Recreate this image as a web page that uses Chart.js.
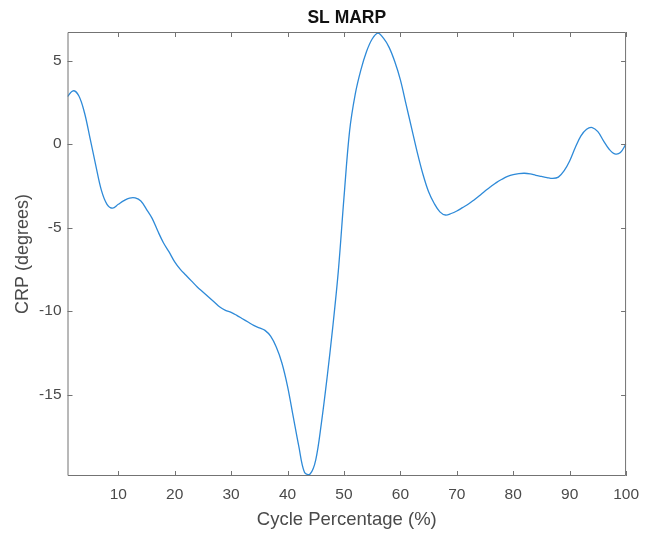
<!DOCTYPE html>
<html>
<head>
<meta charset="utf-8">
<title>SL MARP</title>
<script src="https://cdn.jsdelivr.net/npm/chart.js@4/dist/chart.umd.min.js"></script>
<style>
  html, body { margin: 0; padding: 0; background: #fff; }
  #wrap { width: 648px; height: 534px; }
</style>
</head>
<body>
<div id="wrap"><canvas id="crp"></canvas></div>
<script>
// Pourcentage du cycle (abscisses)
const cycle = [
  1, 2, 3, 4, 5, 6, 7, 8, 9, 10,
  11, 12, 13, 14, 15, 16, 17, 18, 19, 20,
  21, 22, 23, 24, 25, 26, 27, 28, 29, 30,
  31, 32, 33, 34, 35, 36, 37, 38, 39, 40,
  41, 42, 43, 44, 45, 46, 47, 48, 49, 50,
  51, 52, 53, 54, 55, 56, 57, 58, 59, 60,
  61, 62, 63, 64, 65, 66, 67, 68, 69, 70,
  71, 72, 73, 74, 75, 76, 77, 78, 79, 80,
  81, 82, 83, 84, 85, 86, 87, 88, 89, 90,
  91, 92, 93, 94, 95, 96, 97, 98, 99, 100
];

// CRP moyen en degrés pour chaque pourcentage du cycle
const crp = [
  2.85, 3.2, 2.9, 1.9, 0.35, -1.25, -2.75, -3.6, -3.83, -3.6,
  -3.38, -3.23, -3.22, -3.4, -3.9, -4.44, -5.2, -5.9, -6.45, -7.05,
  -7.5, -7.85, -8.2, -8.55, -8.85, -9.15, -9.45, -9.75, -9.95, -10.07,
  -10.25, -10.45, -10.65, -10.85, -11.0, -11.15, -11.5, -12.15, -13.1, -14.5,
  -16.3, -18.1, -19.65, -19.75, -18.9, -16.7, -14.0, -11.0, -7.6, -3.2,
  0.8, 3.0, 4.45, 5.55, 6.3, 6.65, 6.35, 5.8, 4.95, 3.85,
  2.4, 0.95, -0.5, -1.8, -2.85, -3.55, -4.05, -4.24, -4.15, -4.0,
  -3.8, -3.6, -3.35, -3.08, -2.8, -2.55, -2.3, -2.1, -1.93, -1.82,
  -1.76, -1.74, -1.78, -1.86, -1.93, -2.0, -2.05, -1.97, -1.6, -1.0,
  -0.2, 0.5, 0.9, 1.0, 0.75, 0.2, -0.3, -0.58, -0.5, 0.02
];

// Graduations des axes
const xTicks = [10, 20, 30, 40, 50, 60, 70, 80, 90, 100];
const yTicks = [-15, -10, -5, 0, 5];

const FONT = "'Liberation Sans', Arial, Helvetica, sans-serif";
const AXE = "#737373";
const TEXTE = "#4a4a4a";

// Cadre complet avec graduations tournées vers l'intérieur (style MATLAB)
const cadre = {
  id: "cadre",
  afterDatasetsDraw(chart) {
    const { ctx, chartArea: a, scales } = chart;
    const L = 5;
    ctx.save();
    ctx.strokeStyle = AXE;
    ctx.lineWidth = 1;
    ctx.beginPath();
    ctx.rect(a.left + 0.5, a.top + 0.5, a.right - a.left - 1, a.bottom - a.top - 1);
    for (const v of xTicks) {
      const px = Math.round(scales.x.getPixelForValue(v)) + 0.5;
      ctx.moveTo(px, a.bottom); ctx.lineTo(px, a.bottom - L);
      ctx.moveTo(px, a.top); ctx.lineTo(px, a.top + L);
    }
    for (const v of yTicks) {
      const py = Math.round(scales.y.getPixelForValue(v)) + 0.5;
      ctx.moveTo(a.left, py); ctx.lineTo(a.left + L, py);
      ctx.moveTo(a.right, py); ctx.lineTo(a.right - L, py);
    }
    ctx.stroke();
    ctx.restore();
  }
};

new Chart(document.getElementById("crp"), {
  type: "line",
  data: {
    datasets: [{
      label: "SL MARP",
      data: cycle.map((c, i) => ({ x: c, y: crp[i] })),
      borderColor: "#2e8ad8",
      borderWidth: 1.3,
      pointRadius: 0,
      tension: 0.35,
      fill: false
    }]
  },
  options: {
    responsive: true,
    maintainAspectRatio: false,
    animation: false,
    layout: { padding: { left: 0, right: 18, top: 0, bottom: 0 } },
    plugins: {
      legend: { display: false },
      tooltip: { enabled: false },
      title: {
        display: true,
        fullSize: false, // centré sur la zone du tracé
        text: "SL MARP",
        color: "#111",
        font: { family: FONT, size: 17.5, weight: "bold" },
        padding: { top: 7.8, bottom: 3.2 }
      }
    },
    scales: {
      x: {
        type: "linear",
        min: 1,
        max: 100,
        grid: { display: false, drawTicks: false },
        border: { display: false },
        afterBuildTicks: s => { s.ticks = xTicks.map(v => ({ value: v })); },
        afterFit: s => { s.height = 58; },
        ticks: { color: TEXTE, padding: 9, maxRotation: 0, font: { family: FONT, size: 15.5 } },
        title: {
          display: true,
          text: "Cycle Percentage (%)",
          color: TEXTE,
          font: { family: FONT, size: 18.5 },
          padding: { top: 0, bottom: 2.5 }
        }
      },
      y: {
        type: "linear",
        min: -19.87,
        max: 6.72,
        grid: { display: false, drawTicks: false },
        border: { display: false },
        afterBuildTicks: s => { s.ticks = yTicks.map(v => ({ value: v })); },
        afterFit: s => { s.width = 67.5; },
        ticks: { color: TEXTE, padding: 6, font: { family: FONT, size: 15.5 } },
        title: {
          display: true,
          text: "CRP (degrees)",
          color: TEXTE,
          font: { family: FONT, size: 18 },
          padding: { top: 12, bottom: 0 }
        }
      }
    }
  },
  plugins: [cadre]
});
</script>
</body>
</html>
